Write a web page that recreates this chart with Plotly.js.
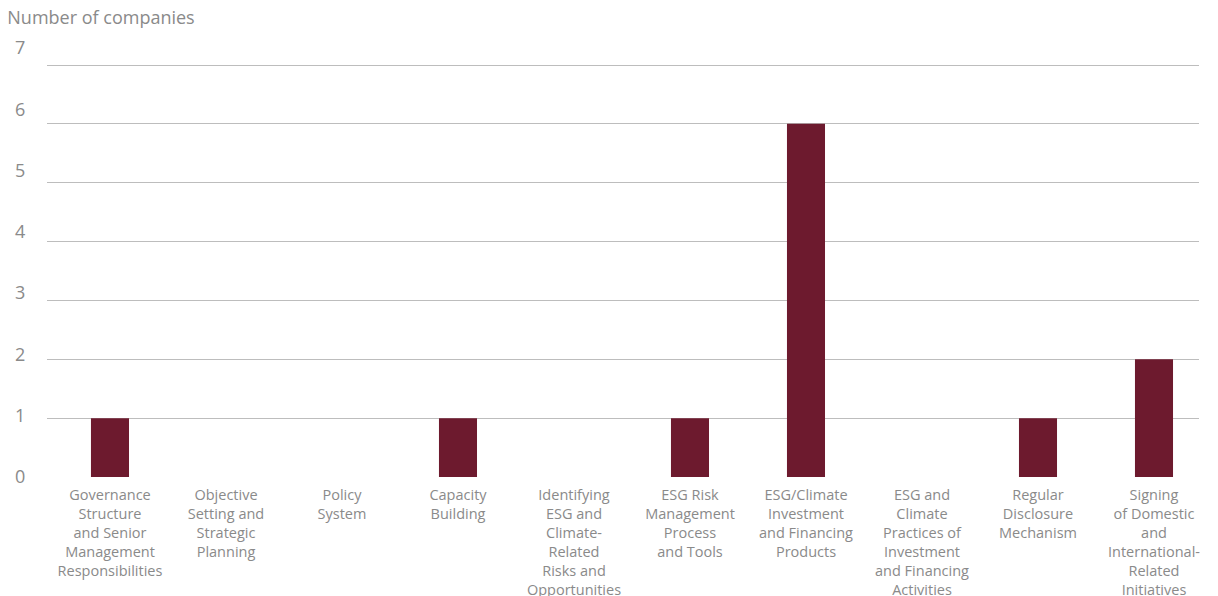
<!DOCTYPE html>
<html>
<head>
<meta charset="utf-8">
<script src="https://cdn.plot.ly/plotly-3.0.1.min.js"></script>
<style>html,body{margin:0;padding:0;background:#fff}#chart{width:1218px;height:596px}</style>
</head>
<body>
<div id="chart"></div>
<script>
const categories = [
  "Governance<br>Structure<br>and Senior<br>Management<br>Responsibilities",
  "Objective<br>Setting and<br>Strategic<br>Planning",
  "Policy<br>System",
  "Capacity<br>Building",
  "Identifying<br>ESG and<br>Climate-<br>Related<br>Risks and<br>Opportunities",
  "ESG Risk<br>Management<br>Process<br>and Tools",
  "ESG/Climate<br>Investment<br>and Financing<br>Products",
  "ESG and<br>Climate<br>Practices of<br>Investment<br>and Financing<br>Activities",
  "Regular<br>Disclosure<br>Mechanism",
  "Signing<br>of Domestic<br>and<br>International-<br>Related<br>Initiatives"
];
const companies = [1, 0, 0, 1, 0, 1, 6, 0, 1, 2];
const yTicks = [0, 1, 2, 3, 4, 5, 6, 7];
const yTitle = "Number of companies";

const FONT = "'Open Sans', 'Noto Sans', sans-serif";
const GREY = "#8a8a8a";

const traces = [
  {
    type: "bar",
    x: categories,
    y: companies,
    marker: {color: "#6d1a2e"},
    hoverinfo: "x+y",
    showlegend: false
  },
  {
    type: "scatter",
    x: categories,
    y: companies,
    yaxis: "y2",
    mode: "none",
    hoverinfo: "skip",
    showlegend: false
  }
];

const layout = {
  width: 1218,
  height: 596,
  margin: {l: 47, r: 19, t: 48, b: 119},
  paper_bgcolor: "#ffffff",
  plot_bgcolor: "#ffffff",
  font: {family: FONT, color: GREY},
  bargap: 0.672,
  title: {
    text: yTitle,
    font: {family: FONT, size: 18, color: GREY},
    x: 0.006, xref: "container", xanchor: "left",
    y: 0.97, yref: "container", yanchor: "middle"
  },
  xaxis: {
    type: "category",
    range: [-0.543, 9.388],
    showgrid: false,
    zeroline: false,
    showline: false,
    ticks: "outside",
    ticklen: 5,
    tickcolor: "rgba(0,0,0,0)",
    tickangle: 0,
    tickfont: {family: FONT, size: 14.5, color: GREY},
    fixedrange: true
  },
  yaxis: {
    range: [0, 7.289],
    tickvals: yTicks,
    showticklabels: false,
    showgrid: true,
    gridcolor: "#bdbdbd",
    gridwidth: 1,
    zeroline: false,
    showline: false,
    ticks: "",
    fixedrange: true
  },
  yaxis2: {
    overlaying: "y",
    side: "left",
    anchor: "x",
    range: [0, 7],
    tickvals: yTicks,
    showgrid: false,
    zeroline: false,
    showline: false,
    ticks: "outside",
    ticklen: 17,
    tickcolor: "rgba(0,0,0,0)",
    tickfont: {family: FONT, size: 18, color: GREY},
    fixedrange: true
  }
};

Plotly.newPlot("chart", traces, layout, {displayModeBar: false, responsive: false});
</script>
</body>
</html>
